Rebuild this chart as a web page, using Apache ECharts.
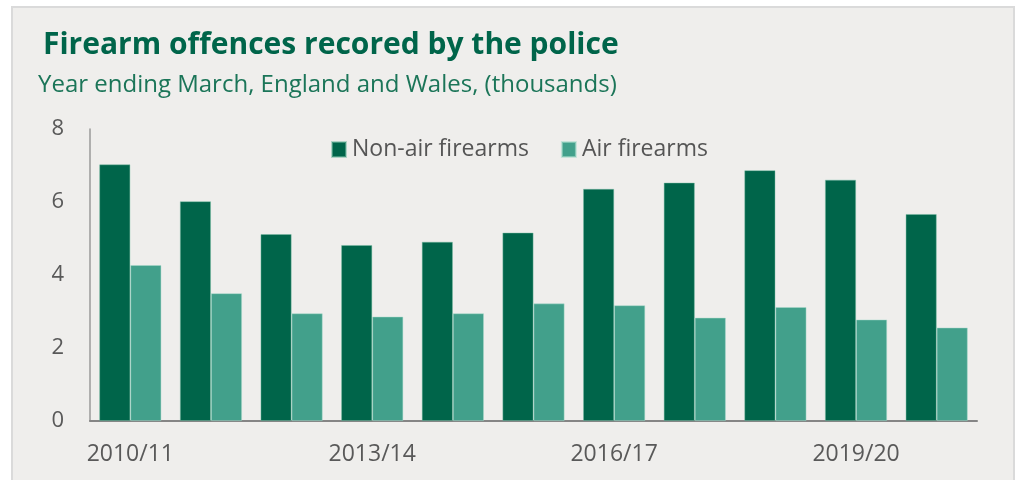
<!DOCTYPE html>
<html>
<head>
<meta charset="utf-8">
<script src="https://cdn.jsdelivr.net/npm/echarts@6/dist/echarts.min.js"></script>
<style>
  html, body { margin: 0; padding: 0; background: #ffffff; }
  #panel {
    position: absolute; left: 11px; top: 6px; width: 1000px; height: 480px;
    background: #efeeec; border: 2px solid #dadada; border-bottom: none;
  }
  #chart { position: absolute; left: 0; top: 0; width: 1018px; height: 480px; }
</style>
</head>
<body>
<div id="panel"></div>
<div id="chart"></div>
<script>
// Year ending March, England and Wales (thousands of offences)
const years = ['2010/11', '2011/12', '2012/13', '2013/14', '2014/15', '2015/16',
               '2016/17', '2017/18', '2018/19', '2019/20', '2020/21'];
const nonAirFirearms = [7.03, 6.02, 5.12, 4.82, 4.91, 5.16, 6.36, 6.53, 6.87, 6.61, 5.67];
const airFirearms    = [4.27, 3.50, 2.95, 2.86, 2.95, 3.22, 3.17, 2.83, 3.12, 2.78, 2.56];
const yTicks = [0, 2, 4, 6, 8];

const FONT = '"Open Sans", "Noto Sans", sans-serif';
const DARK = '#00654a';
const LIGHT = '#42a08b';

const chart = echarts.init(document.getElementById('chart'), null, { renderer: 'canvas' });
chart.setOption({
  backgroundColor: 'transparent',
  animation: false,
  textStyle: { fontFamily: FONT },
  title: [
    {
      text: 'Firearm offences recored by the police',
      left: 38,
      top: 25,
      textStyle: { fontFamily: FONT, fontSize: 30, fontWeight: 'bold', color: DARK }
    },
    {
      text: 'Year ending March, England and Wales, (thousands)',
      left: 33,
      top: 68,
      textStyle: { fontFamily: FONT, fontSize: 24, fontWeight: 'normal', color: '#1b7558' }
    }
  ],
  legend: {
    top: 133,
    left: 326,
    itemWidth: 14,
    itemHeight: 15,
    itemGap: 32,
    textStyle: { fontFamily: FONT, fontSize: 23, color: '#555555', padding: [0, 0, 0, 1] },
    data: [
      { name: 'Non-air firearms', icon: 'rect' },
      { name: 'Air firearms', icon: 'rect' }
    ]
  },
  grid: { left: 90, right: 41, top: 129, bottom: 59, containLabel: false },
  xAxis: {
    type: 'category',
    data: years,
    axisLine: { lineStyle: { color: '#858585', width: 2 } },
    axisTick: { show: false },
    axisLabel: {
      interval: 2,
      margin: 22,
      fontFamily: FONT,
      fontSize: 23,
      color: '#595959'
    }
  },
  yAxis: {
    type: 'value',
    min: yTicks[0],
    max: yTicks[yTicks.length - 1],
    interval: 2,
    axisLine: { show: true, lineStyle: { color: '#9a9a9a', width: 1.5 } },
    axisTick: { show: false },
    splitLine: { show: false },
    axisLabel: { margin: 26, fontFamily: FONT, fontSize: 22, color: '#595959' }
  },
  series: [
    {
      name: 'Non-air firearms',
      type: 'bar',
      data: nonAirFirearms,
      barGap: '0%',
      barCategoryGap: '23%',
      itemStyle: { color: DARK, borderColor: 'rgba(120,190,165,0.55)', borderWidth: 0.8 }
    },
    {
      name: 'Air firearms',
      type: 'bar',
      data: airFirearms,
      barGap: '0%',
      barCategoryGap: '23%',
      itemStyle: { color: LIGHT, borderColor: 'rgba(170,220,205,0.6)', borderWidth: 0.8 }
    }
  ]
});
</script>
</body>
</html>
